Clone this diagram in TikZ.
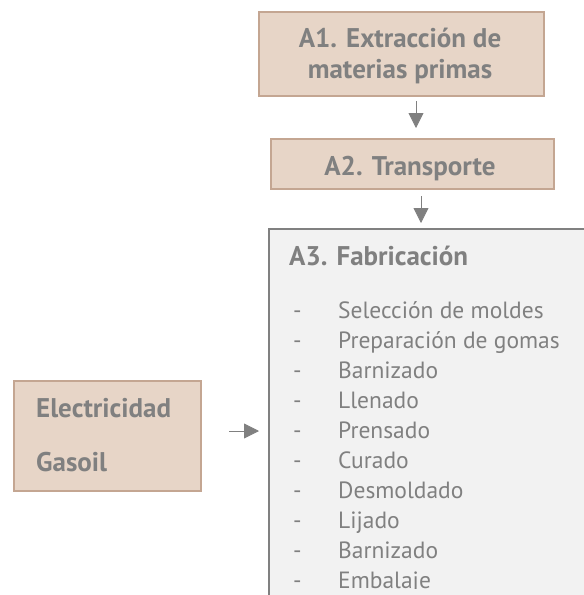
\documentclass[tikz,border=0pt]{standalone}
\usepackage{fontspec}
\setmainfont{PT Sans}
\usetikzlibrary{arrows.meta,calc}
\definecolor{tanfill}{RGB}{231,213,199}
\definecolor{tanline}{RGB}{196,166,146}
\definecolor{txtgray}{RGB}{128,128,128}
\definecolor{boxfill}{RGB}{242,242,242}
\definecolor{boxline}{RGB}{128,128,128}
\begin{document}
\begin{tikzpicture}[x=1pt,y=-1pt,
  tanbox/.style={draw=tanline,line width=2pt,fill=tanfill,inner sep=0pt},
  boldtxt/.style={text=txtgray,font=\fontsize{27}{30}\selectfont\bfseries,inner sep=0pt},
  listtxt/.style={text=txtgray,font=\fontsize{23.5}{27}\selectfont,inner sep=0pt,anchor=base west},
  arr/.style={draw=txtgray,line width=0.8pt,-{Triangle[width=15pt,length=15pt]}}]
\useasboundingbox (0,0) rectangle (584,595);
\clip (0,0) rectangle (584,595);
% boxes
\node[tanbox,anchor=north west,minimum width=285pt,minimum height=84pt] (a1) at (258,11) {};
\node[tanbox,anchor=north west,minimum width=283pt,minimum height=50pt] (a2) at (270,138) {};
\node[draw=boxline,line width=2pt,fill=boxfill,anchor=north west,minimum width=340pt,minimum height=400pt,inner sep=0pt] (a3) at (268,228) {};
\node[tanbox,anchor=north west,minimum width=187pt,minimum height=110pt] (el) at (13,380) {};
% texts
\node[boldtxt,anchor=base] (t1a) at (400,47) {A1. Extracción de};
\node[boldtxt,anchor=base] (t1b) at (400,78) {materias primas};
\node[boldtxt,anchor=base] (t2) at (410,175) {A2. Transporte};
\node[boldtxt,anchor=base west] (t3) at (289,265) {A3. Fabricación};
\node[boldtxt,anchor=base west] (te) at (36,417) {Electricidad};
\node[boldtxt,anchor=base west] (tg) at (36,471) {Gasoil};
\begin{scope}
\clip (270,230) rectangle (584,588);
\foreach \t [count=\i from 0] in {Selección de moldes,Preparación de gomas,Barnizado,Llenado,Prensado,Curado,Desmoldado,Lijado,Barnizado,Embalaje}{
  \node[listtxt] (d\i) at (293,318+30*\i) {-};
  \node[listtxt] (l\i) at (338,318+30*\i) {\t};
}
\end{scope}
% arrows
\coordinate (x1) at (416,0);
\coordinate (x2) at (421,0);
\coordinate (y3) at (0,431);
\draw[arr,shorten <=4pt,shorten >=10pt] (a1.south -| x1) -- (a2.north -| x1);
\draw[arr,shorten <=6pt,shorten >=5pt] (a2.south -| x2) -- (a3.north -| x2);
\draw[arr,shorten <=27pt,shorten >=9pt] (el.east |- y3) -- (a3.west |- y3);
\end{tikzpicture}
\end{document}
